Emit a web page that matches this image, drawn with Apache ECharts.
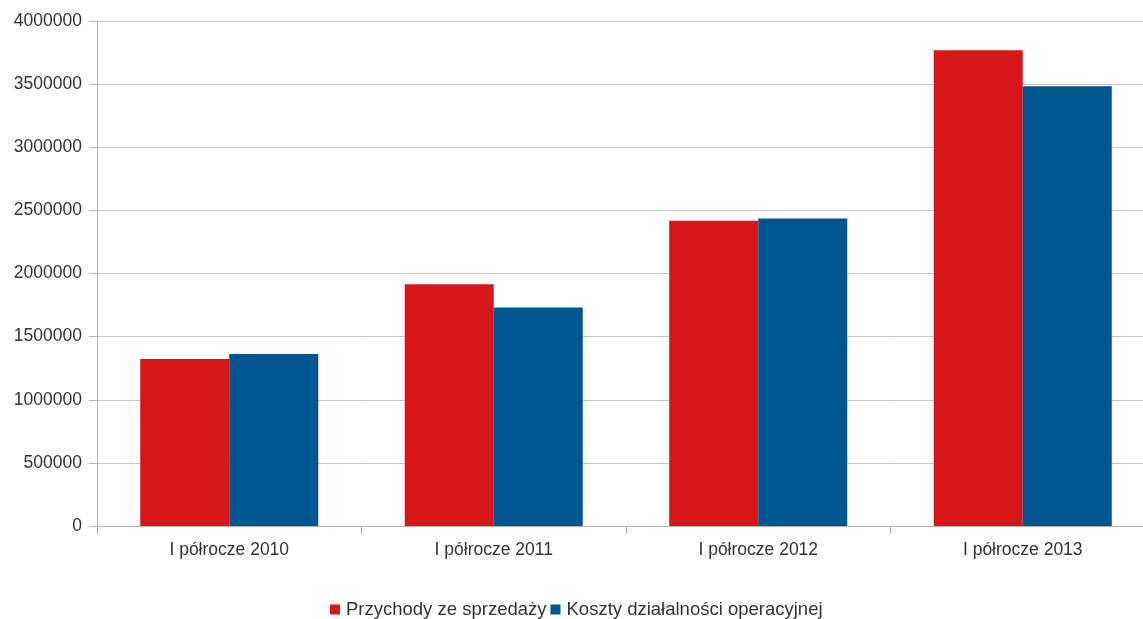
<!DOCTYPE html>
<html>
<head>
<meta charset="utf-8">
<script src="https://cdn.jsdelivr.net/npm/echarts@6/dist/echarts.min.js"></script>
<style>
  html, body { margin: 0; padding: 0; background: #ffffff; overflow: hidden; width: 1143px; height: 619px; }
  /* plot runs slightly past the right edge of the page */
  #chart { width: 1155px; height: 619px; }
</style>
</head>
<body>
<div id="chart"></div>
<script>
// Half-year sales revenue vs. operating costs
const categories = ['I półrocze 2010', 'I półrocze 2011', 'I półrocze 2012', 'I półrocze 2013'];
const seriesNames = ['Przychody ze sprzedaży', 'Koszty działalności operacyjnej'];
const revenue = [1323000, 1915000, 2417000, 3769000];
const costs = [1363000, 1730000, 2435000, 3484000];

const FONT = '"Liberation Sans", Arial, sans-serif';
const chart = echarts.init(document.getElementById('chart'), null, { renderer: 'canvas' });

chart.setOption({
  backgroundColor: '#ffffff',
  animation: false,
  textStyle: { fontFamily: FONT },
  grid: { left: 97, top: 21, bottom: 93, right: 0, containLabel: false },
  legend: {
    bottom: -5,
    left: 325,
    itemWidth: 10,
    itemHeight: 10,
    itemGap: 4,
    icon: 'rect',
    textStyle: { fontFamily: FONT, fontSize: 18.5, color: '#333333', padding: [0, 0, 0, 1] },
    data: seriesNames
  },
  xAxis: {
    type: 'category',
    data: categories,
    axisLine: { show: true, lineStyle: { color: '#b3b3b3', width: 1 } },
    axisTick: { show: true, length: 8, alignWithLabel: false, lineStyle: { color: '#b3b3b3' } },
    axisLabel: { fontFamily: FONT, fontSize: 17.5, color: '#333333', margin: 15 },
    splitLine: { show: false }
  },
  yAxis: {
    type: 'value',
    min: 0,
    max: 4000000,
    interval: 500000,
    axisLine: { show: true, lineStyle: { color: '#b3b3b3', width: 1 } },
    axisTick: { show: true, length: 8, lineStyle: { color: '#b3b3b3' } },
    axisLabel: {
      fontFamily: FONT, fontSize: 17.5, color: '#333333', margin: 15,
      formatter: function (v) { return String(v); }
    },
    splitLine: { show: true, lineStyle: { color: '#c6c6c6', width: 1 } }
  },
  series: [
    {
      name: seriesNames[0],
      type: 'bar',
      data: revenue,
      barGap: '0%',
      barCategoryGap: '32.7%',
      itemStyle: { color: '#d7161a' }
    },
    {
      name: seriesNames[1],
      type: 'bar',
      data: costs,
      barGap: '0%',
      barCategoryGap: '32.7%',
      itemStyle: { color: '#005690' }
    }
  ]
});
</script>
</body>
</html>
